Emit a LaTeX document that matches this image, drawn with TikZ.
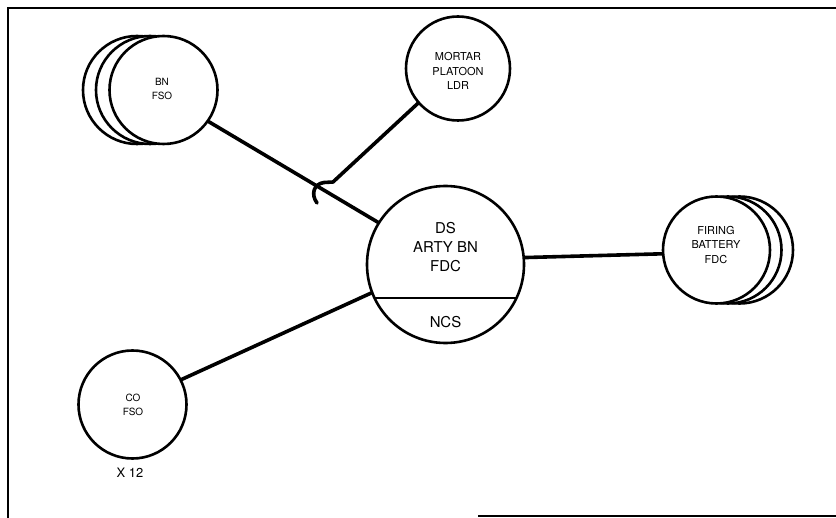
\documentclass[tikz,border=0pt]{standalone}
\usepackage{fontspec}
\setmainfont{TeX Gyre Heros}
\begin{document}
\begin{tikzpicture}[x=1bp,y=-1bp,
  circ/.style={circle,draw,line width=2.6bp,fill=white,inner sep=0pt},
  conn/.style={line width=3.6bp,line cap=round,line join=round},
  lbl/.style={inner sep=0pt,align=center},
  big/.style={lbl,font=\fontsize{15}{19.5}\selectfont},
  small/.style={lbl,font=\fontsize{11}{14.5}\selectfont},
  smaller/.style={lbl,font=\fontsize{10}{14}\selectfont},
  frame/.style={line width=2bp}]
\useasboundingbox (0,0) rectangle (836,518);
% frame
\draw[frame] (836,8) -- (8,8) -- (8,518);
\draw[line width=1.6bp] (478,516) -- (836,516);
% BN FSO (stacked)
\node[circ,minimum size=108bp] (bnb2) at (137,90) {};
\node[circ,minimum size=108bp] (bnb1) at (150,90) {};
\node[circ,minimum size=108bp] (bn) at (163.5,90) {};
% Mortar
\node[circ,minimum size=104bp] (mort) at (458,68.5) {};
% central
\node[circ,minimum size=157bp] (ds) at (445.5,264.5) {};
\coordinate (ncsl) at (374.5,298);
\coordinate (ncsr) at (516.5,298);
\draw[line width=2.4bp] (ncsl) -- (ncsr);
% Firing battery (stacked)
\node[circ,minimum size=107bp] (fbb2) at (739.5,250) {};
\node[circ,minimum size=107bp] (fbb1) at (728,250) {};
\node[circ,minimum size=107bp] (fb) at (716.5,250) {};
% CO FSO
\node[circ,minimum size=108bp] (co) at (132.5,404.5) {};
% labels
\node[big] (t1) at (445.5,247) {DS\\ARTY BN\\FDC};
\node[big] (t2) at (445.5,322) {NCS};
\node[small] (t3) at (458,71) {MORTAR\\PLATOON\\LDR};
\node[small] (t4) at (716,245) {FIRING\\BATTERY\\FDC};
\node[smaller] (t5) at (162,89) {BN\\FSO};
\node[smaller] (t6) at (133,405) {CO\\FSO};
\node[lbl,font=\fontsize{13}{15}\selectfont] (t7) at (130,473) {X 12};
% connectors
\draw[conn] (bn.325.5) -- (ds.148);
\draw[conn] (co.27.3) -- (ds.201.5);
\draw[conn] (ds.5.5) -- (fb.184.4);
\coordinate (hk1) at (333,182);
\coordinate (hk2) at (324,182.5);
\coordinate (hk3) at (317,203);
\draw[conn] (mort.221) -- (hk1) -- (hk2) .. controls (313,184) and (311,195) .. (hk3);
\end{tikzpicture}
\end{document}
